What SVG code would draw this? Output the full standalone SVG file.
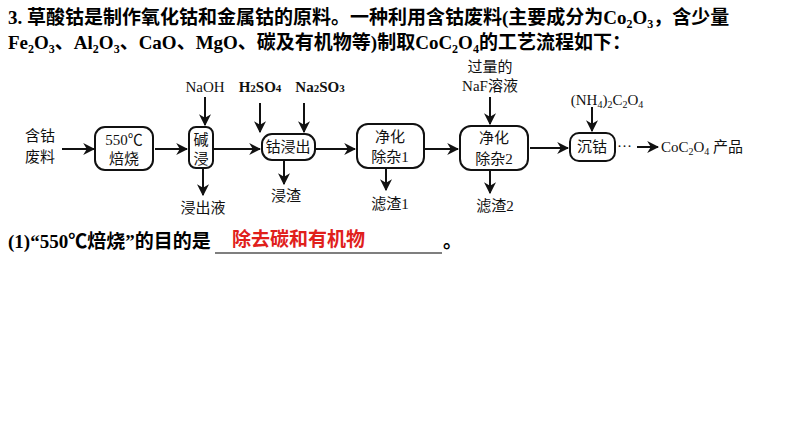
<svg xmlns="http://www.w3.org/2000/svg" width="794" height="447" viewBox="0 0 794 447">
<defs>
<style>
.t{font-family:"Liberation Serif","Noto Sans CJK SC",serif;font-size:19px;font-weight:bold;fill:#000}
.d{font-family:"Liberation Serif","Noto Sans CJK SC",serif;font-size:15px;fill:#111}
.b{fill:#fff;stroke:#111;stroke-width:2}
.c line{stroke:#111;stroke-width:2}
</style>
<marker id="a" viewBox="0 0 10 10" refX="9" refY="5" markerWidth="6" markerHeight="6" orient="auto"><path d="M0,0L10,5L0,10L3,5z" fill="#111"/></marker>
</defs>
<rect width="794" height="447" fill="#fff"/>
<text class="t" x="8" y="24">3.  草酸钴是制作氧化钴和金属钴的原料。一种利用含钴废料(主要成分为Co<tspan dy="4" font-size="12">2</tspan><tspan dy="-4">O</tspan><tspan dy="4" font-size="12">3</tspan><tspan dy="-4">，含少量</tspan></text>
<text class="t" x="8" y="49">Fe<tspan dy="4" font-size="12">2</tspan><tspan dy="-4">O</tspan><tspan dy="4" font-size="12">3</tspan><tspan dy="-4">、Al</tspan><tspan dy="4" font-size="12">2</tspan><tspan dy="-4">O</tspan><tspan dy="4" font-size="12">3</tspan><tspan dy="-4">、CaO、MgO、碳及有机物等)制取CoC</tspan><tspan dy="4" font-size="12">2</tspan><tspan dy="-4">O</tspan><tspan dy="4" font-size="12">4</tspan><tspan dy="-4">的工艺流程如下：</tspan></text>
<g class="c" marker-end="url(#a)">
<line x1="62" y1="149" x2="94" y2="149"/>
<line x1="155" y1="149" x2="187" y2="149"/>
<line x1="205" y1="97" x2="205" y2="125"/>
<line x1="203" y1="168" x2="203" y2="195"/>
<line x1="213" y1="149" x2="260" y2="149"/>
<line x1="260" y1="103" x2="260" y2="132"/>
<line x1="304" y1="103" x2="304" y2="132"/>
<line x1="284" y1="161" x2="284" y2="184"/>
<line x1="316" y1="149" x2="355" y2="149"/>
<line x1="386" y1="169" x2="386" y2="190"/>
<line x1="425" y1="149" x2="458" y2="149"/>
<line x1="490" y1="97" x2="490" y2="124"/>
<line x1="490" y1="171" x2="490" y2="193"/>
<line x1="530" y1="148" x2="568" y2="148"/>
<line x1="592" y1="107" x2="592" y2="131"/>
<line x1="637" y1="147" x2="658" y2="147"/>
</g>
<g id="n0"><text class="d" x="40" y="141" text-anchor="middle">含钴</text><text class="d" x="40" y="162" text-anchor="middle">废料</text></g>
<g id="n1"><rect class="b" x="95" y="127" width="58" height="43" rx="10"/><text class="d" x="124" y="145" text-anchor="middle">550℃</text><text class="d" x="124" y="164" text-anchor="middle">焙烧</text></g>
<g id="n2"><rect class="b" x="189" y="127" width="24" height="41" rx="7"/><text class="d" x="201" y="145" text-anchor="middle">碱</text><text class="d" x="201" y="164" text-anchor="middle">浸</text></g>
<g id="n3"><rect class="b" x="262" y="134" width="53" height="26" rx="10"/><text class="d" x="288" y="152" text-anchor="middle">钴浸出</text></g>
<g id="n4"><rect class="b" x="357" y="124" width="67" height="44" rx="11"/><text class="d" x="390" y="142" text-anchor="middle">净化</text><text class="d" x="390" y="162" text-anchor="middle">除杂1</text></g>
<g id="n5"><rect class="b" x="460" y="126" width="68" height="44" rx="11"/><text class="d" x="494" y="143" text-anchor="middle">净化</text><text class="d" x="494" y="164" text-anchor="middle">除杂2</text></g>
<g id="n6"><rect class="b" x="570" y="133" width="45" height="28" rx="9"/><text class="d" x="592" y="152" text-anchor="middle">沉钴</text></g>
<g id="labels">
<text class="d" x="205" y="92" text-anchor="middle">NaOH</text>
<text class="d" x="260" y="92" text-anchor="middle" font-weight="bold" font-size="14">H<tspan font-size="11">2</tspan>SO<tspan font-size="11">4</tspan></text>
<text class="d" x="320" y="92" text-anchor="middle" font-weight="bold" font-size="14">Na<tspan font-size="11">2</tspan>SO<tspan font-size="11">3</tspan></text>
<text class="d" x="203" y="213" text-anchor="middle">浸出液</text>
<text class="d" x="286" y="201" text-anchor="middle">浸渣</text>
<text class="d" x="390" y="209" text-anchor="middle">滤渣1</text>
<text class="d" x="490" y="72" text-anchor="middle">过量的</text>
<text class="d" x="490" y="91" text-anchor="middle">NaF溶液</text>
<text class="d" x="495" y="211" text-anchor="middle">滤渣2</text>
<text class="d" x="607" y="105" text-anchor="middle" font-size="14">(NH<tspan dy="3" font-size="10">4</tspan><tspan dy="-3">)</tspan><tspan dy="3" font-size="10">2</tspan><tspan dy="-3">C</tspan><tspan dy="3" font-size="10">2</tspan><tspan dy="-3">O</tspan><tspan dy="3" font-size="10">4</tspan></text>
<text class="d" x="617" y="151">···</text>
<text class="d" x="661" y="152">CoC<tspan dy="3" font-size="10">2</tspan><tspan dy="-3">O</tspan><tspan dy="3" font-size="10">4</tspan><tspan dy="-3"> 产品</tspan></text>
</g>
<text class="t" x="8" y="248">(1)“550℃焙烧”的目的是</text>
<line x1="215" y1="253" x2="442" y2="253" stroke="#000" stroke-width="1.2"/>
<text class="t" x="232" y="246" style="fill:#e0201b">除去碳和有机物</text>
<text class="t" x="443" y="248">。</text>
</svg>
